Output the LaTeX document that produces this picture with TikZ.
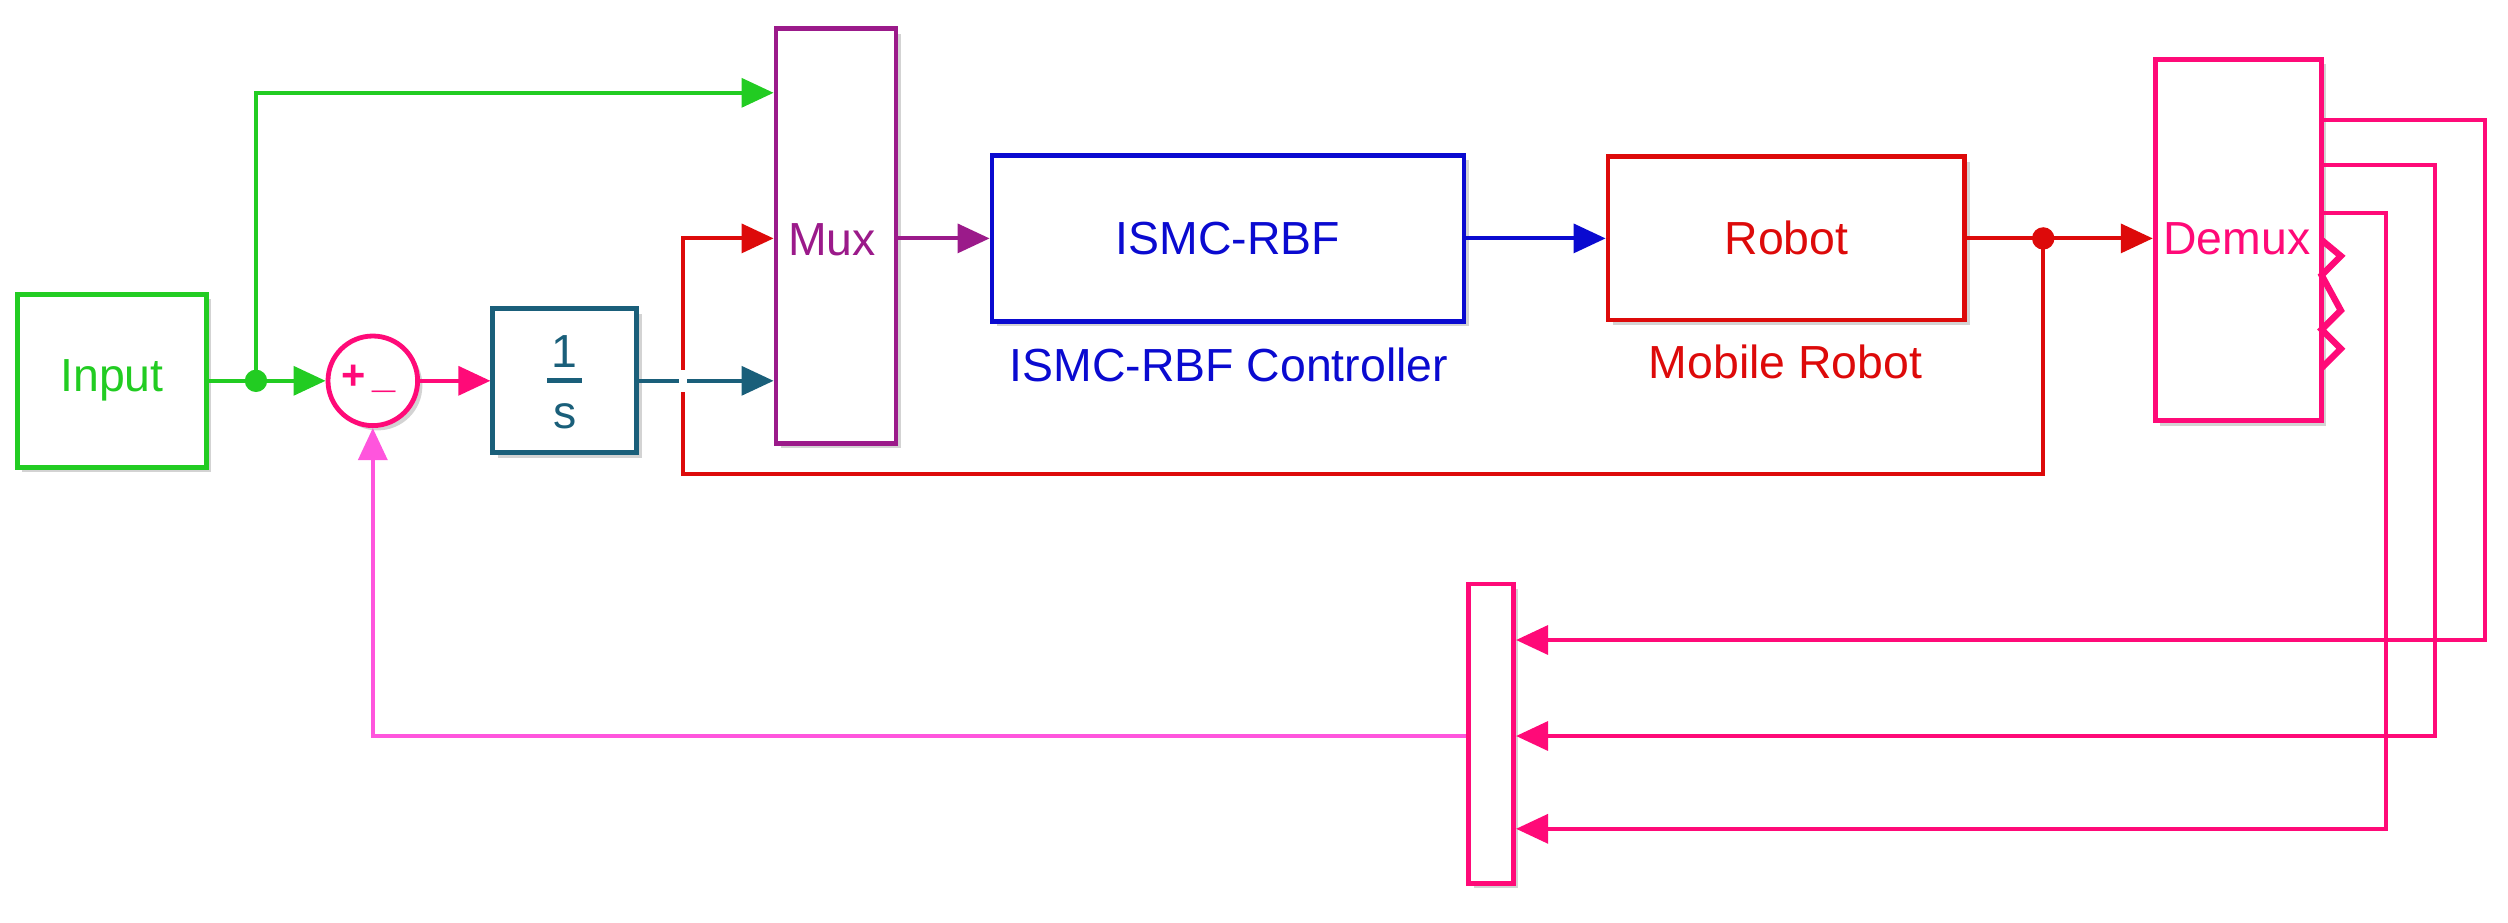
\documentclass[tikz,border=0pt]{standalone}
\usepackage{fontspec}
\setmainfont{Liberation Sans}
\usetikzlibrary{arrows.meta,shadows}
\definecolor{gr}{HTML}{22CC22}
\definecolor{pk}{HTML}{FF0A78}
\definecolor{tl}{HTML}{1A5F7A}
\definecolor{pu}{HTML}{9B1A8A}
\definecolor{bl}{HTML}{0A0AD0}
\definecolor{rd}{HTML}{DD0A0A}
\definecolor{lp}{HTML}{FF55DD}
\begin{document}
\begin{tikzpicture}[x=1pt,y=-1pt,
 blk/.style={draw,line width=3pt,fill=white,drop shadow={opacity=0.35,shadow xshift=3pt,shadow yshift=-3pt}},
 sig/.style={line width=2.5pt,-{Triangle[length=20pt,width=18pt]}},
 ln/.style={line width=2.5pt},
 lbl/.style={font=\fontsize{29}{32}\selectfont}]
\useasboundingbox (0,0) rectangle (1567.5,576.25);
% blocks
\node[blk,draw=gr,minimum width=118pt,minimum height=108pt,text=gr,lbl] (in) at (70,238) {Input};
\node[blk,draw=pk,circle,minimum size=56pt,inner sep=0pt] (sum) at (233,238) {};
\node[text=pk,font=\bfseries\fontsize{26}{26}\selectfont] at (221,236) {+};
\node[text=pk,font=\bfseries\fontsize{26}{26}\selectfont] at (240,244) {\_};
\node[blk,draw=tl,minimum width=90pt,minimum height=90pt] (int) at (353,238) {};
\node[text=tl,lbl] at (353,220) {1};
\node[text=tl,lbl] at (353,260) {s};
\draw[tl,line width=3pt] (342,238)--(364,238);
\node[blk,draw=pu,minimum width=75pt,minimum height=259pt] (mux) at (522.5,147.5) {};
\node[text=pu,lbl] at (520,150) {Mux};
\node[blk,draw=bl,minimum width=295pt,minimum height=104pt,text=bl,lbl] (ctl) at (767.5,149) {ISMC-RBF};
\node[text=bl,lbl] at (768,228) {ISMC-RBF Controller};
\node[blk,draw=rd,minimum width=223pt,minimum height=102pt,text=rd,lbl] (rob) at (1116.5,149) {Robot};
\node[text=rd,lbl] at (1116,226) {Mobile Robot};
\node[blk,draw=pk,minimum width=104pt,minimum height=226pt] (dmx) at (1399,150) {};
\node[text=pk,lbl] at (1398,149) {Demux};
\node[blk,draw=pk,minimum width=28pt,minimum height=187pt] (mx2) at (932,458.5) {};
% zigzag
\draw[pk,line width=4pt] (1451,150)--(1463,160)--(1451,172)--(1463,194)--(1451,206)--(1463,218)--(1451,230);
% green
\coordinate (j1) at (160,238);
\draw[gr,sig] (in.east) -- (sum.west);
\draw[gr,sig] (j1) -- (160,58) -- (mux.west |- 0,58);
\fill[gr] (j1) circle (7pt);
\draw[pk,sig] (sum.east) -- (int.west);
\draw[tl,sig] (int.east) -- (mux.west |- 0,238);
% red
\coordinate (j2) at (1277,149);
\draw[rd,sig] (rob.east) -- (dmx.west |- 0,149);
\draw[white,line width=5pt] (427,230)--(427,246);
\draw[rd,ln] (j2) -- (1277,296) -- (427,296) -- (427,245);
\draw[rd,sig] (427,231) -- (427,149) -- (mux.west |- 0,149);
\fill[rd] (j2) circle (7pt);
\draw[pu,sig] (mux.east |- 0,149) -- (ctl.west);
\draw[bl,sig] (ctl.east) -- (rob.west);
% demux outputs
\draw[pk,sig] (dmx.east |- 0,75) -- (1553,75) -- (1553,400) -- (mx2.east |- 0,400);
\draw[pk,sig] (dmx.east |- 0,103) -- (1522,103) -- (1522,460) -- (mx2.east |- 0,460);
\draw[pk,sig] (dmx.east |- 0,133) -- (1491,133) -- (1491,518) -- (mx2.east |- 0,518);
% feedback
\draw[lp,sig] (mx2.west |- 0,460) -- (233,460) -- (sum.south);
\end{tikzpicture}
\end{document}
